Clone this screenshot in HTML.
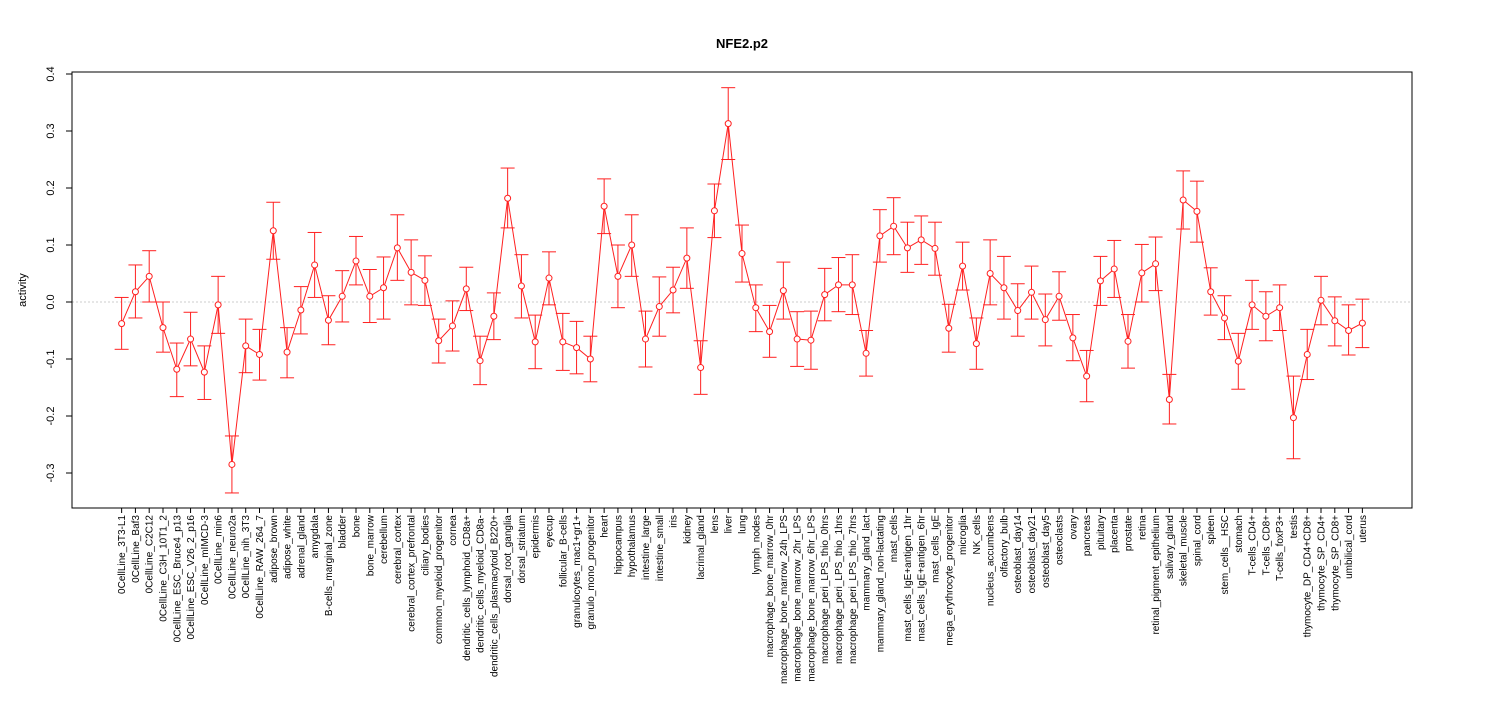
<!DOCTYPE html>
<html><head><meta charset="utf-8"><style>
html,body{margin:0;padding:0;background:#fff;}
svg{display:block;font-family:"Liberation Sans",sans-serif;}
</style></head><body>
<svg id="chart" width="1485" height="720"></svg>
<script>
const categories=["0CellLine_3T3-L1","0CellLine_Baf3","0CellLine_C2C12","0CellLine_C3H_10T1_2","0CellLine_ESC_Bruce4_p13","0CellLine_ESC_V26_2_p16","0CellLine_mIMCD-3","0CellLine_min6","0CellLine_neuro2a","0CellLine_nih_3T3","0CellLine_RAW_264_7","adipose_brown","adipose_white","adrenal_gland","amygdala","B-cells_marginal_zone","bladder","bone","bone_marrow","cerebellum","cerebral_cortex","cerebral_cortex_prefrontal","ciliary_bodies","common_myeloid_progenitor","cornea","dendritic_cells_lymphoid_CD8a+","dendritic_cells_myeloid_CD8a-","dendritic_cells_plasmacytoid_B220+","dorsal_root_ganglia","dorsal_striatum","epidermis","eyecup","follicular_B-cells","granulocytes_mac1+gr1+","granulo_mono_progenitor","heart","hippocampus","hypothalamus","intestine_large","intestine_small","iris","kidney","lacrimal_gland","lens","liver","lung","lymph_nodes","macrophage_bone_marrow_0hr","macrophage_bone_marrow_24h_LPS","macrophage_bone_marrow_2hr_LPS","macrophage_bone_marrow_6hr_LPS","macrophage_peri_LPS_thio_0hrs","macrophage_peri_LPS_thio_1hrs","macrophage_peri_LPS_thio_7hrs","mammary_gland_lact","mammary_gland_non-lactating","mast_cells","mast_cells_IgE+antigen_1hr","mast_cells_IgE+antigen_6hr","mast_cells_IgE","mega_erythrocyte_progenitor","microglia","NK_cells","nucleus_accumbens","olfactory_bulb","osteoblast_day14","osteoblast_day21","osteoblast_day5","osteoclasts","ovary","pancreas","pituitary","placenta","prostate","retina","retinal_pigment_epithelium","salivary_gland","skeletal_muscle","spinal_cord","spleen","stem_cells__HSC","stomach","T-cells_CD4+","T-cells_CD8+","T-cells_foxP3+","testis","thymocyte_DP_CD4+CD8+","thymocyte_SP_CD4+","thymocyte_SP_CD8+","umbilical_cord","uterus"];
const values=[-0.038,0.018,0.045,-0.045,-0.118,-0.065,-0.123,-0.005,-0.285,-0.077,-0.092,0.125,-0.088,-0.014,0.065,-0.032,0.01,0.072,0.01,0.025,0.095,0.052,0.038,-0.068,-0.042,0.023,-0.103,-0.025,0.182,0.028,-0.07,0.042,-0.07,-0.08,-0.1,0.168,0.045,0.1,-0.065,-0.008,0.021,0.077,-0.115,0.16,0.313,0.085,-0.01,-0.052,0.02,-0.065,-0.067,0.013,0.03,0.03,-0.09,0.116,0.133,0.095,0.109,0.094,-0.046,0.063,-0.073,0.05,0.025,-0.015,0.017,-0.031,0.01,-0.063,-0.13,0.037,0.058,-0.069,0.051,0.067,-0.171,0.179,0.159,0.018,-0.028,-0.104,-0.005,-0.025,-0.01,-0.203,-0.092,0.003,-0.033,-0.05,-0.037];
const upper=[0.008,0.065,0.09,0.0,-0.072,-0.018,-0.077,0.045,-0.235,-0.03,-0.048,0.175,-0.045,0.027,0.122,0.011,0.055,0.115,0.057,0.079,0.153,0.109,0.081,-0.03,0.002,0.061,-0.06,0.016,0.235,0.083,-0.023,0.088,-0.02,-0.034,-0.06,0.216,0.1,0.153,-0.016,0.044,0.061,0.13,-0.068,0.207,0.376,0.135,0.03,-0.006,0.07,-0.017,-0.016,0.059,0.078,0.083,-0.05,0.162,0.183,0.14,0.151,0.14,-0.004,0.105,-0.028,0.109,0.08,0.032,0.063,0.014,0.053,-0.022,-0.085,0.08,0.108,-0.022,0.101,0.114,-0.127,0.23,0.212,0.06,0.011,-0.055,0.038,0.018,0.03,-0.13,-0.048,0.045,0.009,-0.005,0.005];
const lower=[-0.083,-0.028,0.0,-0.088,-0.166,-0.112,-0.171,-0.055,-0.335,-0.124,-0.137,0.075,-0.133,-0.056,0.008,-0.075,-0.035,0.03,-0.036,-0.03,0.038,-0.005,-0.006,-0.107,-0.086,-0.015,-0.145,-0.066,0.13,-0.028,-0.117,-0.005,-0.12,-0.126,-0.14,0.12,-0.01,0.045,-0.114,-0.06,-0.019,0.024,-0.162,0.113,0.25,0.035,-0.052,-0.097,-0.03,-0.113,-0.118,-0.033,-0.017,-0.022,-0.13,0.07,0.083,0.052,0.066,0.047,-0.088,0.021,-0.118,-0.005,-0.03,-0.06,-0.03,-0.077,-0.032,-0.103,-0.175,-0.006,0.008,-0.116,0.0,0.02,-0.214,0.128,0.105,-0.023,-0.066,-0.153,-0.048,-0.068,-0.05,-0.275,-0.136,-0.04,-0.077,-0.093,-0.08];
const yTicks=[-0.3,-0.2,-0.1,0.0,0.1,0.2,0.3,0.4];
const yTickLabels=["-0.3","-0.2","-0.1","0.0","0.1","0.2","0.3","0.4"];

const NS="http://www.w3.org/2000/svg";
const svg=document.getElementById("chart");
const L=72,R=1412,T=72,B=508;
const n=categories.length;
const xs=i=>L+(i+3.6)*(R-L)/(n-1+7.2);
const ys=v=>302-v*570;
function mk(tag,attrs,parent){const e=document.createElementNS(NS,tag);for(const k in attrs)e.setAttribute(k,attrs[k]);(parent||svg).appendChild(e);return e;}

let t=mk("text",{x:(L+R)/2,y:48,"text-anchor":"middle","font-size":"13","font-weight":"bold"});t.textContent="NFE2.p2";


let frame=mk("rect",{x:L,y:T,width:R-L,height:B-T,fill:"none",stroke:"#000","stroke-width":1});


let zl=mk("line",{x1:L,x2:R,y1:ys(0),y2:ys(0),stroke:"#ccc","stroke-dasharray":"2,2"});


let yl=mk("text",{transform:"translate(26,290) rotate(-90)","text-anchor":"middle","font-size":"11"});yl.textContent="activity";



const yAxis=mk("g",{});


mk("line",{x1:L,x2:L,y1:ys(yTicks[0]),y2:ys(yTicks[yTicks.length-1]),stroke:"#000"},yAxis);
yTicks.forEach((v,i)=>{
  mk("line",{x1:L-6,x2:L,y1:ys(v),y2:ys(v),stroke:"#000"},yAxis);
  const tx=mk("text",{transform:`translate(54,${ys(v)}) rotate(-90)`,"text-anchor":"middle","font-size":"11"},yAxis);
  tx.textContent=yTickLabels[i];
  
  
});

const xAxis=mk("g",{});


mk("line",{x1:xs(0),x2:xs(n-1),y1:B,y2:B,stroke:"#000"},xAxis);
categories.forEach((c,i)=>{
  mk("line",{x1:xs(i),x2:xs(i),y1:B,y2:B+5,stroke:"#000"},xAxis);
  const tx=mk("text",{transform:`translate(${xs(i)+3.5},${B+7}) rotate(-90)`,"text-anchor":"end","font-size":"10"},xAxis);
  tx.textContent=c;
  
  
});

const series=mk("g",{});


let pts=values.map((v,i)=>xs(i)+","+ys(v)).join(" ");
const line=mk("polyline",{points:pts,fill:"none",stroke:"#ff2020","stroke-width":1},series);


values.forEach((v,i)=>{
  const g=mk("g",{stroke:"#ff2020",fill:"none"},series);
  
  
  const x=xs(i);
  mk("line",{x1:x,x2:x,y1:ys(upper[i]),y2:ys(lower[i])},g);
  mk("line",{x1:x-7,x2:x+7,y1:ys(upper[i]),y2:ys(upper[i])},g);
  mk("line",{x1:x-7,x2:x+7,y1:ys(lower[i]),y2:ys(lower[i])},g);
  const c=mk("circle",{cx:x,cy:ys(v),r:3,fill:"#fff",stroke:"#ff2020"},series);
  
  
});
</script>
</body></html>
